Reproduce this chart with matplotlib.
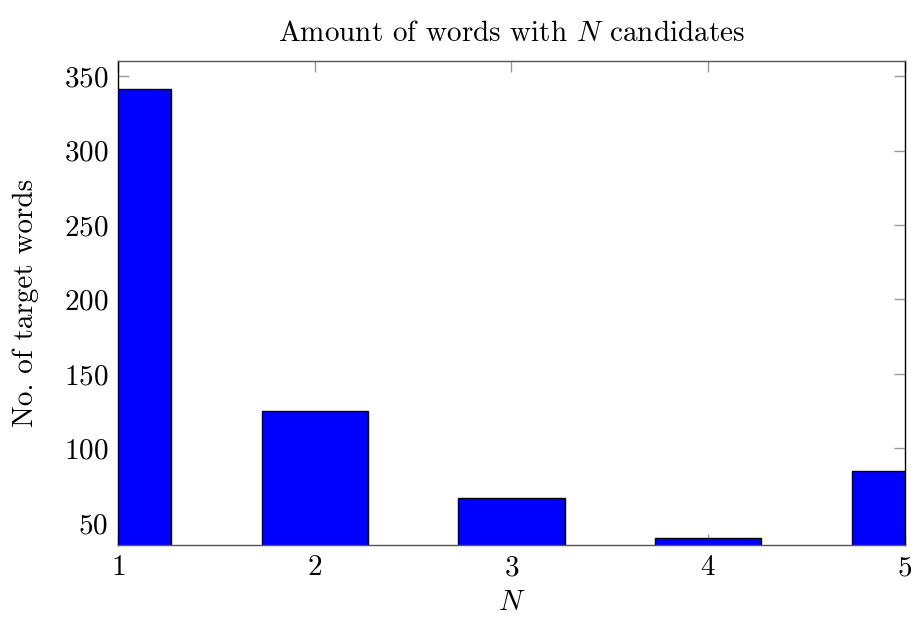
import matplotlib
matplotlib.use('Agg')
import matplotlib.pyplot as plt

# values
candidates = [1, 2, 3, 4, 5]
n_words = [341, 125, 67, 40, 85]
yticks = [50, 100, 150, 200, 250, 300, 350]

plt.rcParams['font.family'] = ['cmr10', 'DejaVu Serif']
plt.rcParams['mathtext.fontset'] = 'cm'
plt.rcParams['axes.formatter.use_mathtext'] = True

fig = plt.figure(figsize=(9.12, 6.17), dpi=100)
ax = fig.add_axes([0.1294, 0.1167, 0.8629, 0.7852])

ax.bar(candidates, n_words, width=0.54, color='#0000ff', edgecolor='black',
       linewidth=1.0, zorder=2)

ax.set_xlim(1, 5)
ax.set_ylim(35.2, 360.4)
ax.set_xticks(candidates)
ax.set_yticks(yticks)
ax.tick_params(direction='in', length=8, width=1.0, color='#999999',
               labelsize=21, top=True, right=True, pad=7)

for s in ax.spines.values():
    s.set_linewidth(1.0)
for s in ('top', 'bottom'):
    ax.spines[s].set_color('#555555')
ax.spines['left'].set_color('black')
ax.spines['right'].set_color('black')

ax.set_title('Amount of words with $N$ candidates', fontsize=21, pad=14)
ax.set_xlabel('$N$', fontsize=21, labelpad=6)
ax.set_ylabel('No. of target words', fontsize=21, labelpad=18)

fig.savefig('out.png', dpi=100)
